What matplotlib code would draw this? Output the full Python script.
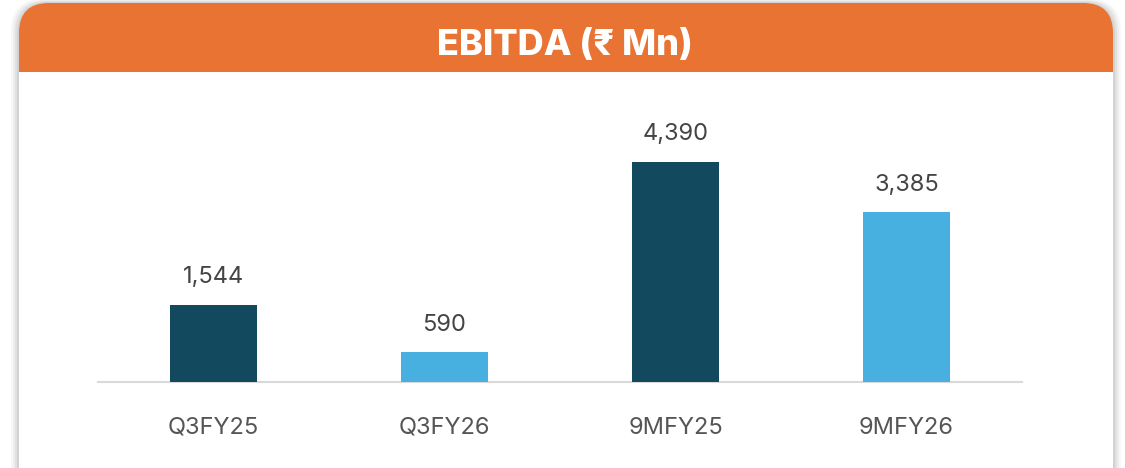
import matplotlib
matplotlib.use("Agg")
import matplotlib.pyplot as plt
from matplotlib.patches import FancyBboxPatch, Rectangle

categories = ["Q3FY25", "Q3FY26", "9MFY25", "9MFY26"]
values = [1544, 590, 4390, 3385]
value_labels = ["1,544", "590", "4,390", "3,385"]
title = "EBITDA (₹ Mn)"

dark = "#12495F"
light = "#47B0E0"
bar_colors = [dark, light, dark, light]
orange = "#E87333"

W, H = 1125, 468
fig = plt.figure(figsize=(W / 100, H / 100), dpi=100)
fig.patch.set_facecolor("white")

# background layer in pixel coordinates
bg = fig.add_axes([0, 0, 1, 1])
bg.set_xlim(0, W)
bg.set_ylim(H, 0)
bg.axis("off")

# soft shadow
for i, a in enumerate([0.03, 0.04, 0.05, 0.06]):
    d = 8 - 2 * i
    bg.add_patch(FancyBboxPatch((19 - d, 3 - d / 2), 1094 + 2 * d, 600,
                                boxstyle="round,pad=0,rounding_size=32",
                                facecolor="black", edgecolor="none", alpha=a, zorder=1))
# orange header with rounded top
bg.add_patch(FancyBboxPatch((19, 3), 1094, 200,
                            boxstyle="round,pad=0,rounding_size=30",
                            facecolor=orange, edgecolor="none", zorder=2))
# white card body
bg.add_patch(Rectangle((19, 72), 1094, 420, facecolor="white", edgecolor="none", zorder=3))

fam_title = ["Inter", "Noto Sans", "DejaVu Sans"]
bg.text(565, 45, title, color="white", fontsize=26, fontweight="heavy",
        ha="center", va="center", family=fam_title, zorder=4)

fam = ["Inter", "DejaVu Sans"]
# chart axes
x0, x1 = 98, 1022
ytop, ybase = 100, 382
ax = fig.add_axes([x0 / W, (H - ybase) / H, (x1 - x0) / W, (ybase - ytop) / H])
ax.patch.set_alpha(0)
x = list(range(len(categories)))
ax.bar(x, values, width=0.38, color=bar_colors, zorder=3)
ax.set_xlim(-0.5, 3.5)
ax.set_ylim(0, 5630)
for s in ["top", "right", "left"]:
    ax.spines[s].set_visible(False)
ax.spines["bottom"].set_color("#d9d9d9")
ax.spines["bottom"].set_linewidth(1.5)
ax.set_yticks([])
ax.set_xticks(x)
ax.set_xticklabels(categories, fontsize=17, color="#555555", family=fam)
ax.tick_params(axis="x", length=0, pad=25)
for xi, v, lab in zip(x, values, value_labels):
    ax.annotate(lab, (xi, v), xytext=(0, 12), textcoords="offset points",
                ha="center", va="bottom", fontsize=17, color="#444444",
                family=fam)

fig.savefig("out.png", dpi=100)
